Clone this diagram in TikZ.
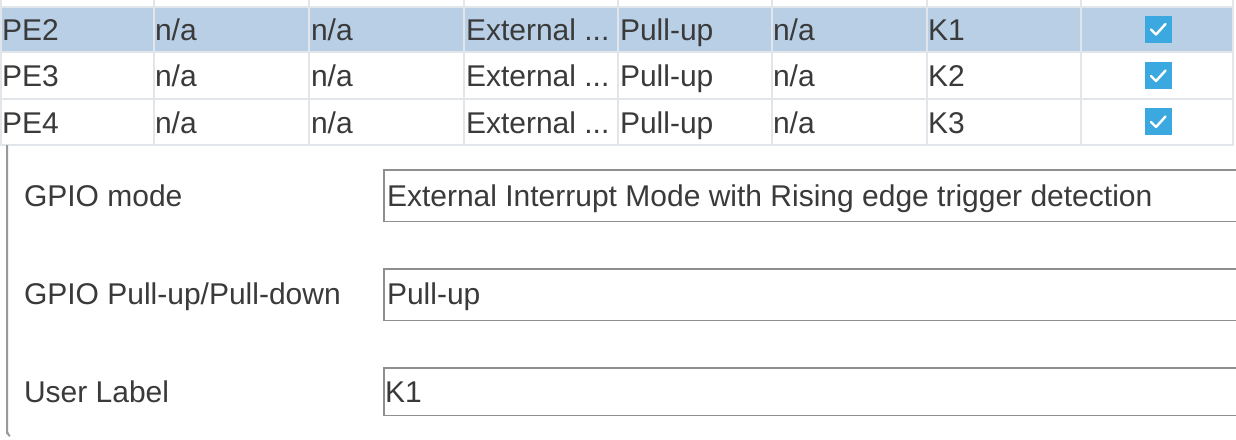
\documentclass[tikz,border=0pt]{standalone}
\usepackage{fontspec}
\setmainfont{Liberation Sans}
\definecolor{txt}{HTML}{3A3A3A}
\definecolor{gridc}{HTML}{E2E6EB}
\definecolor{hilite}{HTML}{B8CFE5}
\definecolor{chk}{HTML}{3BA9DF}
\definecolor{boxc}{HTML}{8E8E8E}
\definecolor{panelc}{HTML}{9A9A9A}
\begin{document}
\begin{tikzpicture}[x=1pt,y=-1pt,
  cell/.style={anchor=base west,inner sep=0pt,outer sep=0pt,text=txt,font=\fontsize{30}{31}\selectfont},
  gridline/.style={draw=gridc,line width=2pt},
  fieldbox/.style={draw=boxc,line width=1.8pt,fill=white},
  chkbox/.style={fill=chk,draw=none,minimum width=27pt,minimum height=27pt,inner sep=0pt},
  tick/.style={draw=white,line width=2.4pt,line cap=round,line join=round}]
% canvas
\fill[white] (0,0) rectangle (1236,439);
\useasboundingbox (0,0) rectangle (1236,439);
% highlighted row
\fill[hilite] (1,7) rectangle (1233,52);
% grid
\foreach \yy in {7,52,98.5,145} {\draw[gridline] (0,\yy) -- (1234,\yy);}
\foreach \xx in {154,309,463.5,618,772,927,1081,1233} {\draw[gridline] (\xx,0) -- (\xx,145);}
\draw[gridline] (0.5,0) -- (0.5,145);
% row texts
\node[cell] (r1c1) at (2,40) {PE2};
\node[cell] (r1c2) at (155,40) {n/a};
\node[cell] (r1c3) at (311,40) {n/a};
\node[cell] (r1c4) at (466,40) {External ...};
\node[cell] (r1c5) at (620,40) {Pull-up};
\node[cell] (r1c6) at (773,40) {n/a};
\node[cell] (r1c7) at (928,40) {K1};
\node[cell] (r2c1) at (2,86.5) {PE3};
\node[cell] (r2c2) at (155,86.5) {n/a};
\node[cell] (r2c3) at (311,86.5) {n/a};
\node[cell] (r2c4) at (466,86.5) {External ...};
\node[cell] (r2c5) at (620,86.5) {Pull-up};
\node[cell] (r2c6) at (773,86.5) {n/a};
\node[cell] (r2c7) at (928,86.5) {K2};
\node[cell] (r3c1) at (2,133) {PE4};
\node[cell] (r3c2) at (155,133) {n/a};
\node[cell] (r3c3) at (311,133) {n/a};
\node[cell] (r3c4) at (466,133) {External ...};
\node[cell] (r3c5) at (620,133) {Pull-up};
\node[cell] (r3c6) at (773,133) {n/a};
\node[cell] (r3c7) at (928,133) {K3};
% checkboxes
\foreach \yy/\nm in {29/cb1,75.5/cb2,121.5/cb3} {
  \node[chkbox] (\nm) at (1158,\yy) {};
  \draw[tick] ([xshift=-7pt,yshift=-0.5pt]\nm.center) -- ([xshift=-2pt,yshift=-5.5pt]\nm.center) -- ([xshift=7.5pt,yshift=5pt]\nm.center);
}
% details panel
\draw[panelc,line width=2pt] (7,145) -- (7,432) to[out=90,in=180] (10,436);
\node[cell] (lab1) at (24,206) {GPIO mode};
\node[cell] (lab2) at (24,304) {GPIO Pull-up/Pull-down};
\node[cell] (lab3) at (24,402) {User Label};
\draw[fieldbox] (1240,170) -- (384,170) -- (384,221.5) -- (1240,221.5);
\draw[fieldbox] (1240,269) -- (384,269) -- (384,320.5) -- (1240,320.5);
\draw[fieldbox] (1240,368) -- (384,368) -- (384,415.5) -- (1240,415.5);
\node[cell] (val1) at (387,206) {External Interrupt Mode with Rising edge trigger detection};
\node[cell] (val2) at (387,304) {Pull-up};
\node[cell] (val3) at (385,402) {K1};
\end{tikzpicture}
\end{document}
